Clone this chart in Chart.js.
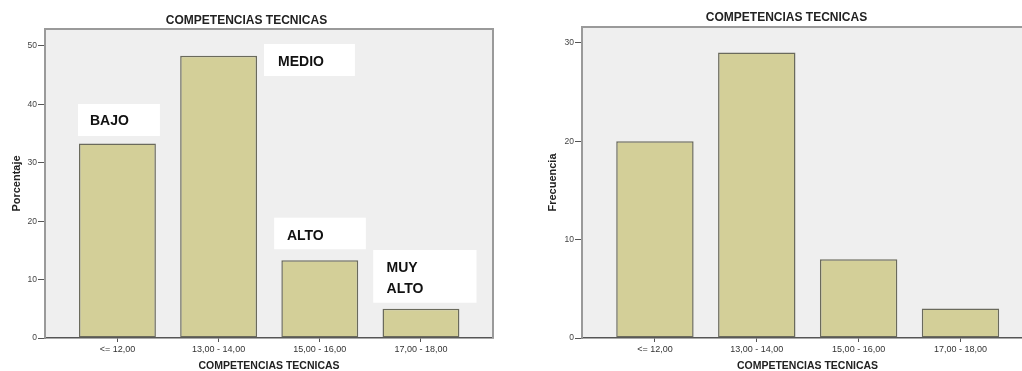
<!DOCTYPE html>
<html>
<head>
<meta charset="utf-8">
<script src="https://cdn.jsdelivr.net/npm/chart.js@4.4.1/dist/chart.umd.min.js"></script>
<style>
  html, body { margin: 0; padding: 0; background: #ffffff; width: 1022px; height: 371px; overflow: hidden; }
  .box { position: absolute; top: 0; height: 371px; }
  #wrapA { left: 0; width: 500px; }
  #wrapB { left: 540px; width: 496px; }
</style>
</head>
<body>
<div class="box" id="wrapA"><canvas id="chartA" width="500" height="371"></canvas></div>
<div class="box" id="wrapB"><canvas id="chartB" width="496" height="371"></canvas></div>
<script>
// ---- data ----
const categories = ['<= 12,00', '13,00 - 14,00', '15,00 - 16,00', '17,00 - 18,00'];
const percentValues = [33.3, 48.3, 13.3, 5.0];
const frequencyValues = [20, 29, 8, 3];
const percentTicks = [0, 10, 20, 30, 40, 50];
const frequencyTicks = [0, 10, 20, 30];
const levelLabels = [['BAJO'], ['MEDIO'], ['ALTO'], ['MUY', 'ALTO']];
const chartTitle = 'COMPETENCIAS TECNICAS';
const xAxisTitle = 'COMPETENCIAS TECNICAS';

const FONT = "'Liberation Sans', Arial, sans-serif";
const BAR_FILL = '#d3cf98';
const BAR_EDGE = '#6a6a5c';
const PLOT_BG = '#efefef';

// plot background and frame
const framePlugin = {
  id: 'frame',
  beforeDraw(chart) {
    const a = chart.chartArea, ctx = chart.ctx;
    ctx.save();
    ctx.fillStyle = PLOT_BG;
    ctx.fillRect(a.left, a.top, a.right - a.left, a.bottom - a.top);
    ctx.restore();
  },
  beforeDatasetsDraw(chart) {
    const a = chart.chartArea, ctx = chart.ctx;
    ctx.save();
    ctx.strokeStyle = '#9a9a9a';
    ctx.lineWidth = 2;
    ctx.beginPath();
    ctx.moveTo(a.left, a.bottom);
    ctx.lineTo(a.left, a.top);
    ctx.lineTo(a.right, a.top);
    ctx.lineTo(a.right, a.bottom);
    ctx.stroke();
    ctx.restore();
  }
};

// white label boxes placed in data coordinates
const levelPlugin = {
  id: 'levels',
  afterDraw(chart, args, opts) {
    if (!opts.boxes) return;
    const xs = chart.scales.x, ys = chart.scales.y, ctx = chart.ctx;
    ctx.save();
    opts.boxes.forEach((b, i) => {
      const l = xs.getPixelForValue(b.x0), r = xs.getPixelForValue(b.x1);
      const t = ys.getPixelForValue(b.y1), bt = ys.getPixelForValue(b.y0);
      ctx.fillStyle = '#ffffff';
      ctx.fillRect(l, t, r - l, bt - t);
      ctx.fillStyle = '#111111';
      ctx.font = "bold 14px " + FONT;
      ctx.textBaseline = 'middle';
      ctx.textAlign = 'left';
      levelLabels[i].forEach((line, k) => {
        ctx.fillText(line, xs.getPixelForValue(b.tx), ys.getPixelForValue(b.ty[k]));
      });
    });
    ctx.restore();
  }
};

function makeChart(id, values, tickVals, yMax, yTitle, yWidth, yTitlePad, titlePad, rightPad, boxes) {
  return new Chart(document.getElementById(id), {
    type: 'bar',
    data: {
      datasets: [{
        data: categories.map((c, i) => ({ x: i, y: values[i] })),
        backgroundColor: BAR_FILL,
        borderColor: BAR_EDGE,
        borderWidth: 1.5,
        borderSkipped: false,
        barPercentage: 0.76,
        categoryPercentage: 1.0
      }]
    },
    options: {
      responsive: false,
      animation: false,
      devicePixelRatio: 1,
      layout: { padding: { left: 0, right: rightPad, top: 0, bottom: 0 } },
      plugins: {
        legend: { display: false },
        tooltip: { enabled: false },
        title: {
          display: true,
          text: chartTitle,
          color: '#222222',
          font: { family: FONT, size: 12, weight: 'bold', lineHeight: 1.2 },
          padding: titlePad
        },
        levels: { boxes: boxes }
      },
      scales: {
        x: {
          type: 'linear',
          offset: false,
          min: -0.716,
          max: 3.712,
          afterBuildTicks(scale) { scale.ticks = categories.map((c, i) => ({ value: i })); },
          afterFit(scale) { scale.height = 33; },
          grid: { display: true, offset: false, drawOnChartArea: false, drawTicks: true, tickLength: 4, color: '#555555', lineWidth: 1 },
          border: { display: true, color: '#555555', width: 1.5 },
          ticks: {
            autoSkip: false, maxRotation: 0, padding: 2,
            color: '#333333',
            font: { family: FONT, size: 9 },
            callback: (v) => categories[Math.round(v)]
          },
          title: {
            display: true, text: xAxisTitle, color: '#222222',
            font: { family: FONT, size: 10.5, weight: 'bold', lineHeight: 1 },
            padding: { top: 0, bottom: 0 }
          }
        },
        y: {
          min: 0,
          max: yMax,
          afterBuildTicks(scale) { scale.ticks = tickVals.map(v => ({ value: v })); },
          afterFit(scale) { scale.width = yWidth; },
          grid: { display: true, drawOnChartArea: false, drawTicks: true, tickLength: 7, color: '#555555', lineWidth: 1 },
          border: { display: true, color: '#8a8a8a', width: 2 },
          ticks: {
            padding: 1,
            color: '#444444',
            font: { family: FONT, size: 8.5 }
          },
          title: {
            display: true, text: yTitle, color: '#222222',
            font: { family: FONT, size: 11, weight: 'bold', lineHeight: 1 },
            padding: { top: yTitlePad, bottom: 0 }
          }
        }
      }
    },
    plugins: [framePlugin, levelPlugin]
  });
}

makeChart('chartA', percentValues, percentTicks, 52.9, 'Porcentaje', 45, 11.5,
  { top: 13, bottom: 1.6 }, 7,
  [
    { x0: -0.390, x1: 0.420, y0: 34.59, y1: 40.07, tx: -0.272, ty: [37.16] },
    { x0: 1.448, x1: 2.347, y0: 44.86, y1: 50.34, tx: 1.588, ty: [47.26] },
    { x0: 1.549, x1: 2.455, y0: 15.19, y1: 20.60, tx: 1.675, ty: [17.47] },
    { x0: 2.528, x1: 3.549, y0: 6.04, y1: 15.07, tx: 2.660, ty: [12.04, 8.34] }
  ]);

makeChart('chartB', frequencyValues, frequencyTicks, 31.6, 'Frecuencia', 42, 7,
  { top: 10, bottom: 2.6 }, 3, null);
</script>
</body>
</html>
